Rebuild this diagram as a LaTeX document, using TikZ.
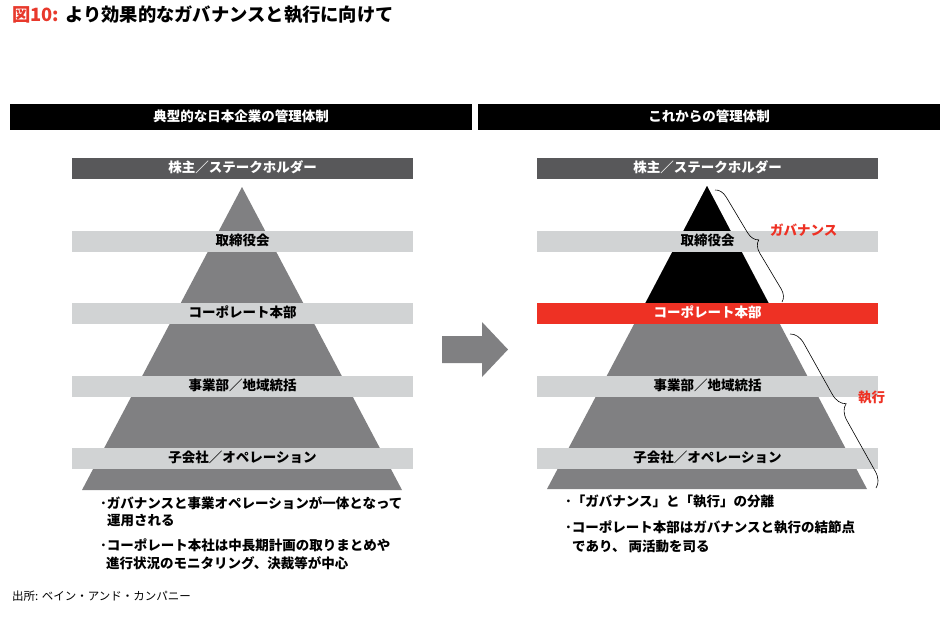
\documentclass[tikz,border=0pt]{standalone}
\usepackage{fontspec}
\setmainfont{Noto Sans CJK JP}
\usetikzlibrary{decorations.pathreplacing}
\definecolor{dkgray}{HTML}{58585A}
\definecolor{ltgray}{HTML}{D1D3D4}
\definecolor{pyrgray}{HTML}{808082}
\definecolor{myred}{HTML}{EE3124}
\definecolor{titlered}{HTML}{E8392C}
\begin{document}
\begin{tikzpicture}[x=1pt,y=-1pt,
  txt/.style={inner sep=0pt, text height=0.88em, text depth=0.12em},
  bar/.style={minimum width=341pt, minimum height=21pt, inner sep=0pt, anchor=north,
    font=\fontsize{13.5}{15}\selectfont\bfseries, text height=0.88em, text depth=0.12em},
  lightbar/.style={bar, fill=ltgray, text=black},
  darkbar/.style={bar, fill=dkgray, text=white},
  redbar/.style={bar, fill=myred, text=white},
  header/.style={fill=black, text=white, minimum width=462pt, minimum height=26pt,
    inner sep=0pt, anchor=north west, font=\fontsize{13.5}{15}\selectfont\bfseries,
    text height=0.88em, text depth=0.12em},
  bullet/.style={txt, anchor=west, font=\fontsize{13.5}{15}\selectfont\bfseries},
  redlabel/.style={txt, anchor=west, text=myred, font=\fontsize{13.5}{15}\selectfont\bfseries},
  bracestyle/.style={decorate, decoration={brace, amplitude=12pt}, line width=0.6pt, black}
]
\useasboundingbox[fill=white] (0,0) rectangle (950,625);

% title
\node[txt, anchor=west, font=\fontsize{18.3}{20}\selectfont\bfseries] (title) at (12,18)
  {\textcolor{titlered}{図10:}\hspace{6pt}より効果的なガバナンスと執行に向けて};

% headers
\node[header] (hl) at (10,104) {典型的な日本企業の管理体制};
\node[header] (hr) at (478,104) {これからの管理体制};

% left pyramid
\fill[pyrgray] (242,187) -- (402,490) -- (82,490) -- cycle;
\node[darkbar]  (ls) at (242.5,158) {株主／ステークホルダー};
\node[lightbar] (lb) at (242.5,231) {取締役会};
\node[lightbar] (lc) at (242.5,303) {コーポレート本部};
\node[lightbar] (ld) at (242.5,376) {事業部／地域統括};
\node[lightbar] (lo) at (242.5,448) {子会社／オペレーション};

% right pyramid
\fill[pyrgray] (707,186) -- (867,489) -- (547,489) -- cycle;
\fill[black] (707,186) -- (769,304) -- (645,304) -- cycle;
\node[darkbar]  (rs) at (707.5,158) {株主／ステークホルダー};
\node[lightbar] (rb) at (707.5,231) {取締役会};
\node[redbar]   (rc) at (707.5,303) {コーポレート本部};
\node[lightbar] (rd) at (707.5,376) {事業部／地域統括};
\node[lightbar] (ro) at (707.5,448) {子会社／オペレーション};

% middle arrow
\fill[pyrgray] (442,336) -- (482,336) -- (482,322) -- (508,349.5) -- (482,377)
  -- (482,363) -- (442,363) -- cycle;

% braces
\coordinate (g1) at (715,190);
\coordinate (g2) at (782,302);
\coordinate (e1) at (790,334);
\coordinate (e2) at (876,488);
\draw[bracestyle] (g1) -- (g2);
\draw[bracestyle, decoration={brace, amplitude=15pt}] (e1) -- (e2);
\node[redlabel] (gov) at (770,232) {ガバナンス};
\node[redlabel] (exe) at (858,399) {執行};

% left bullets
\node[bullet] (l1) at (100,505) {･ガバナンスと事業オペレーションが一体となって};
\node[bullet] (l2) at (107,522) {運用される};
\node[bullet] (l3) at (100,547) {･コーポレート本社は中長期計画の取りまとめや};
\node[bullet] (l4) at (106,565) {進行状況のモニタリング、決裁等が中心};

% right bullets
\node[bullet] (r1) at (565,503) {･「ガバナンス」と「執行」の分離};
\node[bullet] (r2) at (565,529) {･コーポレート本部はガバナンスと執行の結節点};
\node[bullet] (r3) at (572,548) {であり、 両活動を司る};

% source
\node[txt, anchor=west, font=\fontsize{11.5}{13}\selectfont] (src) at (12,597)
  {出所: ベイン・アンド・カンパニー};
\end{tikzpicture}
\end{document}
